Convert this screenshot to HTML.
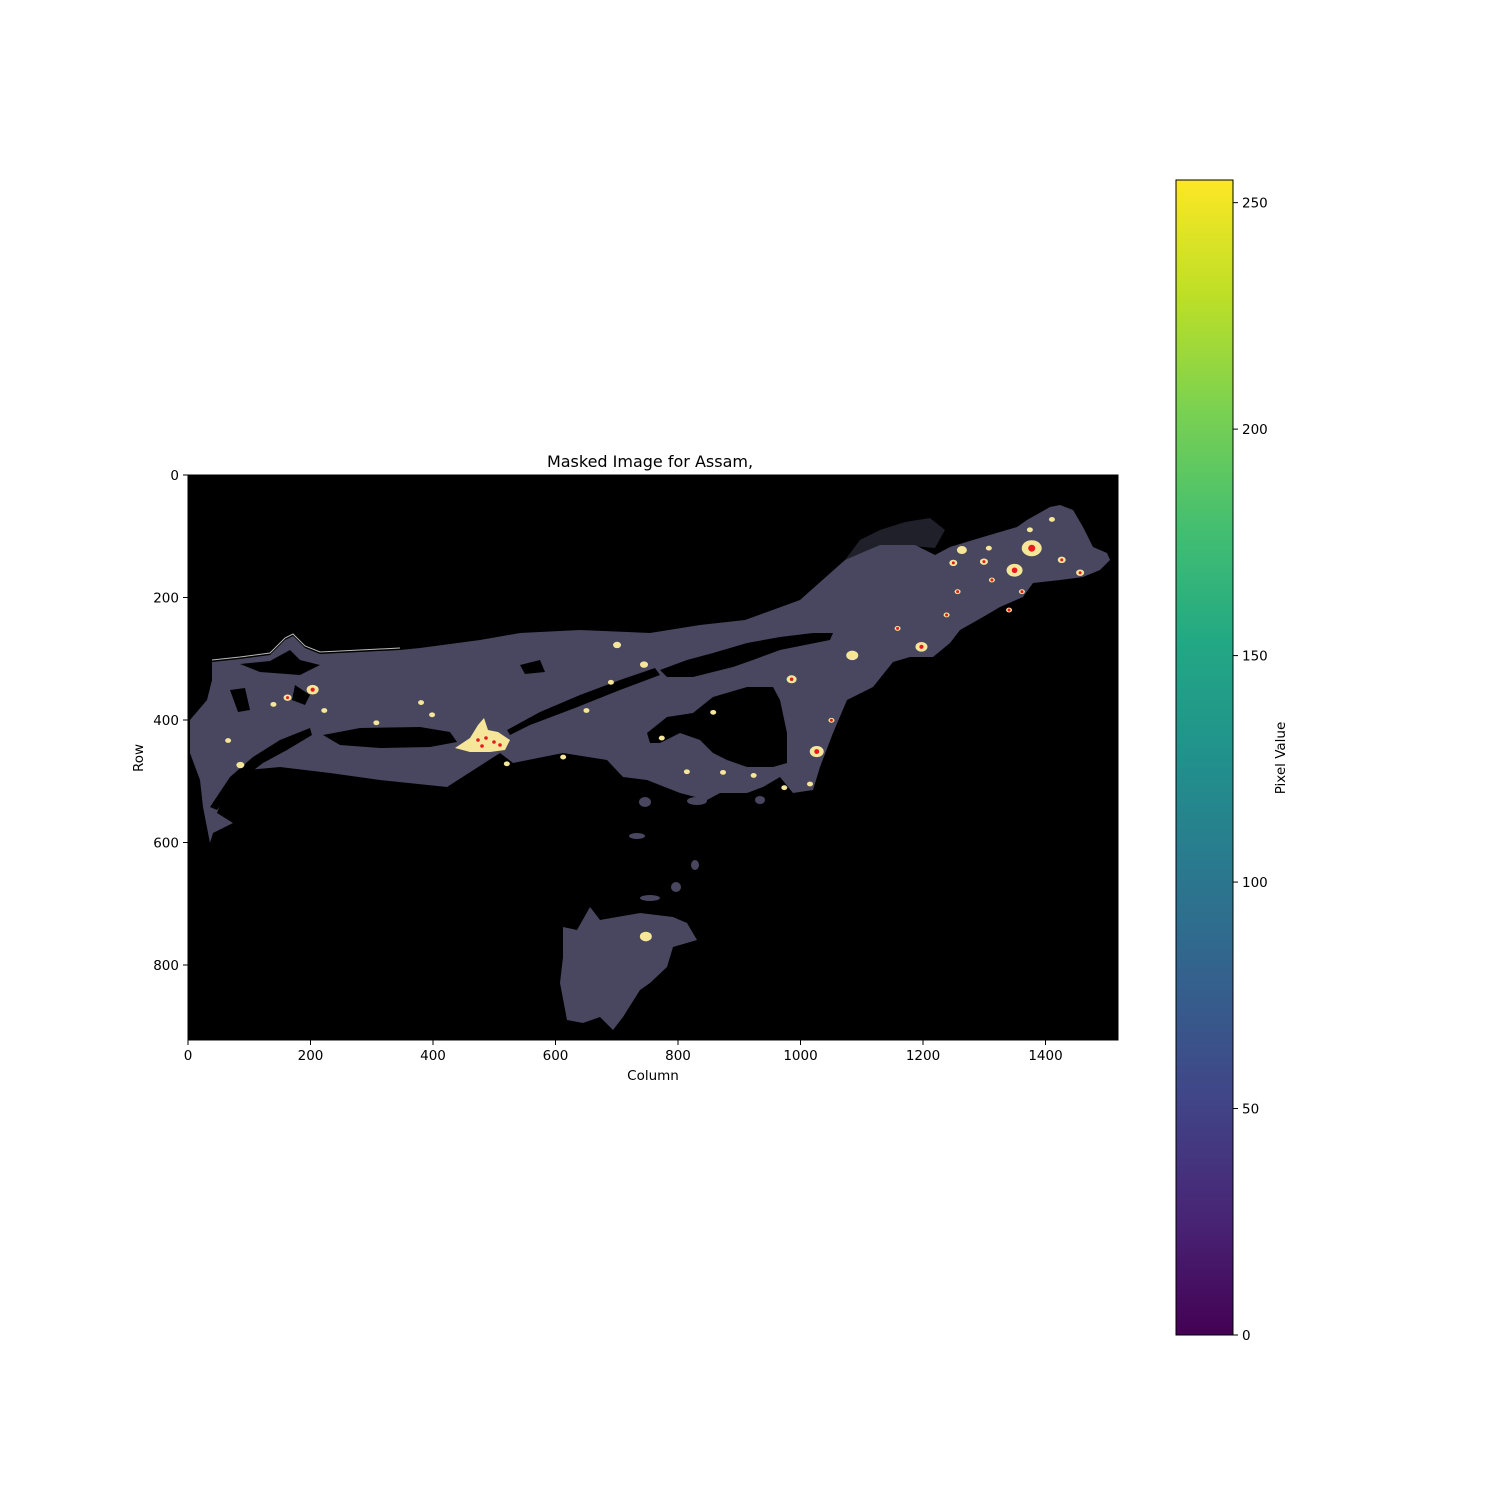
<!DOCTYPE html>
<html><head><meta charset="utf-8"><style>
html,body{margin:0;padding:0;background:#fff;}
svg{display:block;font-family:"DejaVu Sans","Liberation Sans",sans-serif;}
</style></head><body>
<svg id="fig" width="1500" height="1500" viewBox="0 0 1500 1500" xmlns="http://www.w3.org/2000/svg">
<defs>
<linearGradient id="viridis" x1="0" y1="1" x2="0" y2="0">
<stop offset="0" stop-color="#440154"/><stop offset="0.1" stop-color="#482475"/><stop offset="0.2" stop-color="#414487"/><stop offset="0.3" stop-color="#355f8d"/><stop offset="0.4" stop-color="#2a788e"/><stop offset="0.5" stop-color="#21918c"/><stop offset="0.6" stop-color="#22a884"/><stop offset="0.7" stop-color="#44bf70"/><stop offset="0.8" stop-color="#7ad151"/><stop offset="0.9" stop-color="#bddf26"/><stop offset="1" stop-color="#fde725"/>
</linearGradient>
<clipPath id="axclip"><rect x="188" y="475" width="930" height="565"/></clipPath>
</defs>
<text x="650" y="467" text-anchor="middle" font-size="16">Masked Image for Assam,</text>
<g clip-path="url(#axclip)">
<rect x="188" y="475" width="930" height="565" fill="#000"/>
<polygon fill="#48475f" points="212,662 240,659 270,655 285,640 293,636 305,648 320,654 360,652 400,650 420,648 480,640 520,633 580,630 650,633 700,625 745,620 800,600 845,560 880,545 915,545 935,555 950,547 983,537 1017,527 1027,520 1050,507 1060,505 1073,510 1083,527 1093,547 1107,553 1110,560 1100,570 1083,577 1060,580 1033,583 1023,597 1000,607 983,617 960,630 950,643 933,657 910,657 893,662 873,687 847,700 833,733 820,767 813,790 793,793 780,777 763,787 747,793 720,793 707,800 680,793 647,780 623,777 607,760 563,753 513,763 500,753 447,787 380,780 330,773 280,767 247,770 223,797 217,813 233,823 213,833 210,843 203,807 200,780 190,753 190,720 207,700 212,680"/>
<polyline fill="none" stroke="#bbb" stroke-width="1" points="212,660 240,657 270,653 285,638 293,634 305,646 320,652 360,650 400,648"/>
<g fill="#000">
<polygon points="240,664 270,661 290,650 300,660 320,665 300,675 260,672"/>
</g>
<polygon fill="#48475f" points="845,560 860,540 880,530 905,522 930,518 945,530 935,548 900,545" opacity="0.45"/>
<polygon fill="#48475f" points="590,907 600,920 617,917 640,913 673,917 687,923 697,940 673,947 667,967 650,983 640,990 623,1017 613,1030 600,1017 583,1023 567,1020 560,983 563,957 563,927 577,930"/>
<g fill="#48475f">
<ellipse cx="645" cy="802" rx="6" ry="5"/><ellipse cx="697" cy="801" rx="10" ry="4"/><ellipse cx="637" cy="836" rx="8" ry="3"/><ellipse cx="676" cy="887" rx="5" ry="5"/><ellipse cx="650" cy="898" rx="10" ry="3"/><ellipse cx="695" cy="865" rx="4" ry="5"/><ellipse cx="760" cy="800" rx="5" ry="4"/>
</g>
<g fill="#000">
<polygon points="210,807 230,777 253,757 280,740 310,728 312,735 287,750 263,763 237,783 217,810"/>
<polygon points="323,735 360,728 420,727 450,732 457,742 430,747 380,748 340,745"/>
<polygon points="507,730 540,712 580,695 620,680 655,668 660,675 620,690 575,708 530,725 510,735"/>
<polygon points="660,670 687,660 713,653 747,643 780,637 813,633 833,633 830,640 780,650 753,660 733,667 693,677 667,677"/>
<polygon points="647,733 667,717 693,713 713,697 747,687 773,687 780,700 787,733 787,763 773,767 747,767 727,760 713,753 700,740 680,733 660,743 650,743"/>
<polygon points="230,690 245,688 250,710 238,712"/>
<polygon points="295,685 310,695 305,705 292,700"/>
<polygon points="520,665 540,660 545,672 525,674"/>
</g>
<polygon fill="#f5e69a" points="455,748 470,738 478,725 484,718 488,730 498,732 510,740 505,750 490,752 470,752"/>
<g id="hotspots"></g>
</g>
<rect x="188" y="475" width="930" height="565" fill="none" stroke="#000" stroke-width="1"/>
<g id="xaxis"></g>
<g id="yaxis"></g>
<text x="653" y="1080" text-anchor="middle" font-size="13.5">Column</text>
<text transform="translate(143,758) rotate(-90)" text-anchor="middle" font-size="13.5">Row</text>
<rect x="1176" y="180" width="57" height="1155" fill="url(#viridis)" stroke="#000" stroke-width="1"/>
<g id="cbaxis"></g>
<text transform="translate(1285,758) rotate(-90)" text-anchor="middle" font-size="13.5">Pixel Value</text>
</svg>
<script>
const xTicks = [0, 200, 400, 600, 800, 1000, 1200, 1400];
const yTicks = [0, 200, 400, 600, 800];
const cbTicks = [0, 50, 100, 150, 200, 250];
const hotCols = [203, 162, 139, 65, 85, 700, 744, 857, 985, 1084, 1026, 1050, 1197, 1377, 1349, 1249, 1299, 1307, 1426, 1374, 1312, 1361, 1256, 1238, 1263, 1456, 747, 380, 307, 222, 398, 690, 650, 773, 814, 873, 973, 923, 1158, 1410, 612, 520, 1340, 1015];
const hotRows = [350, 363, 374, 433, 473, 277, 309, 387, 333, 294, 451, 400, 280, 119, 155, 143, 141, 119, 138, 89, 171, 190, 190, 228, 122, 159, 753, 371, 404, 384, 391, 338, 384, 429, 484, 485, 510, 490, 250, 72, 460, 471, 220, 504];
const hotSize = [6, 4, 3, 3, 4, 4, 4, 3, 5, 6, 7, 3, 6, 10, 8, 4, 4, 3, 4, 3, 3, 3, 3, 3, 5, 4, 6, 3, 3, 3, 3, 3, 3, 3, 3, 3, 3, 3, 3, 3, 3, 3, 3, 3];
const hotCore = [1, 1, 0, 0, 0, 0, 0, 0, 1, 0, 1, 1, 1, 1, 1, 1, 1, 0, 1, 0, 1, 1, 1, 1, 0, 1, 0, 0, 0, 0, 0, 0, 0, 0, 0, 0, 0, 0, 1, 0, 0, 0, 1, 0];
const cbMin = 0, cbMax = 255;

const NS = "http://www.w3.org/2000/svg";
const sx = c => 188 + (c + 0.5) * 0.6125;
const sy = r => 475 + (r + 0.5) * 0.6125;
const cy = v => 1335 - (v - cbMin) / (cbMax - cbMin) * 1155;
function mk(tag, attrs, parent) {
  const e = document.createElementNS(NS, tag);
  for (const k in attrs) e.setAttribute(k, attrs[k]);
  parent.appendChild(e);
  return e;
}
const hs = document.getElementById('hotspots');
hotCols.forEach((c, i) => {
  const s = hotSize[i];
  const el = mk('ellipse', {cx: sx(c), cy: sy(hotRows[i]), rx: s, ry: s * 0.8, fill: '#f5e69a'}, hs);
  
  
  if (hotCore[i]) {
    const r = mk('circle', {cx: sx(c), cy: sy(hotRows[i]), r: Math.max(1.5, s * 0.35), fill: '#e8191f'}, hs);
    
    
  }
});
[[478,740],[486,738],[494,742],[500,745],[482,746]].forEach(p => {
  const r = mk('circle', {cx: p[0], cy: p[1], r: 1.8, fill: '#e8191f'}, hs);
  
  
});
const xa = document.getElementById('xaxis');
xTicks.forEach(v => {
  const x = 188 + v * 0.6125;
  const l = mk('line', {x1: x, x2: x, y1: 1040, y2: 1045, stroke: '#000'}, xa);
  
  
  const t = mk('text', {x: x, y: 1060, 'text-anchor': 'middle', 'font-size': '13.5'}, xa);
  t.textContent = v;
  
  
});
const ya = document.getElementById('yaxis');
yTicks.forEach(v => {
  const y = 475 + v * 0.6125;
  const l = mk('line', {x1: 183, x2: 188, y1: y, y2: y, stroke: '#000'}, ya);
  
  
  const t = mk('text', {x: 179, y: y + 5, 'text-anchor': 'end', 'font-size': '13.5'}, ya);
  t.textContent = v;
  
  
});
const ca = document.getElementById('cbaxis');
cbTicks.forEach(v => {
  const y = cy(v);
  const l = mk('line', {x1: 1233, x2: 1238, y1: y, y2: y, stroke: '#000'}, ca);
  
  
  const t = mk('text', {x: 1242, y: y + 5, 'font-size': '13.5'}, ca);
  t.textContent = v;
  
  
});
</script>
</body></html>
